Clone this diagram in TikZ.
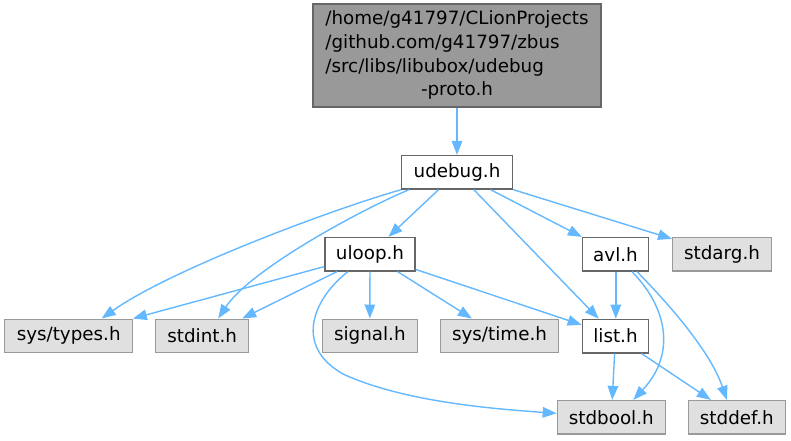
\documentclass[tikz,border=0pt]{standalone}
\usepackage{fontspec}
\setmainfont{DejaVu Sans}
\usetikzlibrary{arrows.meta}
\definecolor{edgeblue}{HTML}{63B8FF}
\definecolor{grayfill}{HTML}{E0E0E0}
\definecolor{grayline}{HTML}{999999}
\definecolor{darkline}{HTML}{666666}
\definecolor{topfill}{HTML}{999999}
\begin{document}
\begin{tikzpicture}[x=1pt,y=-1pt,
  every node/.style={font=\fontsize{18.3}{23.6}\selectfont, inner sep=0pt, line width=1.3pt, minimum height=33.5pt},
  whitebox/.style={draw=darkline, fill=white},
  graybox/.style={draw=grayline, fill=grayfill},
  topbox/.style={draw=darkline, fill=topfill},
  dep/.style={draw=edgeblue, line width=1.4pt, -{Triangle[length=14pt,width=10.5pt]}}]
\useasboundingbox (0,0) rectangle (791,440);
\node[topbox, minimum width=288pt, minimum height=103pt] (top) at (457,55.5)
  {\begin{tabular}{@{}l@{}}/home/g41797/CLionProjects\\/github.com/g41797/zbus\\/src/libs/libubox/udebug\\\multicolumn{1}{@{}c@{}}{-proto.h}\end{tabular}};
\node[whitebox, minimum width=110.6pt] (udebug) at (457,172.3) {udebug.h};
\node[whitebox, minimum width=90pt] (uloop) at (370,254.2) {uloop.h};
\node[whitebox, minimum width=66.4pt] (avl) at (615.5,254.3) {avl.h};
\node[graybox, minimum width=98.6pt] (stdarg) at (722,254.3) {stdarg.h};
\node[graybox, minimum width=128pt] (systypes) at (68.7,335.9) {sys/types.h};
\node[graybox, minimum width=93pt] (stdint) at (202.2,335.9) {stdint.h};
\node[graybox, minimum width=95pt] (signal) at (369.8,335.9) {signal.h};
\node[graybox, minimum width=117.6pt] (systime) at (499.5,335.9) {sys/time.h};
\node[whitebox, minimum width=66.4pt] (list) at (615.5,336.1) {list.h};
\node[graybox, minimum width=108pt] (stdbool) at (611.3,417.3) {stdbool.h};
\node[graybox, minimum width=97pt] (stddef) at (736.8,417.3) {stddef.h};

\draw[dep] (top) -- (udebug);
\draw[dep] (udebug.south west) .. controls (330,210) and (170,270) .. ([xshift=33pt]systypes.north);
\draw[dep] ([xshift=8pt]udebug.south west) .. controls (360,210) and (250,270) .. ([xshift=16pt]stdint.north);
\draw[dep] (udebug) -- (uloop);
\draw[dep] (udebug) -- (list);
\draw[dep] (udebug) -- (avl);
\draw[dep] (udebug) -- (stdarg);
\draw[dep] (uloop) -- (systypes);
\draw[dep] ([xshift=-33pt]uloop.south) -- ([xshift=40pt]stdint.north);
\draw[dep] ([xshift=-22pt]uloop.south) .. controls (315,297) and (292,345) .. (343,374) .. controls (400,400) and (480,408) .. ([yshift=4pt]stdbool.west);
\draw[dep] (uloop) -- (signal);
\draw[dep] (uloop) -- (systime);
\draw[dep] (uloop) -- (list);
\draw[dep] ([xshift=0.3pt]avl.south) -- ([xshift=0.3pt]list.north);
\draw[dep] ([xshift=16.5pt]avl.south) .. controls (665,305) and (678,352) .. ([xshift=22pt]stdbool.north);
\draw[dep] ([xshift=21.5pt]avl.south) .. controls (665,300) and (710,350) .. ([xshift=-10pt]stddef.north);
\draw[dep] (list) -- (stdbool);
\draw[dep] (list) -- (stddef);
\end{tikzpicture}
\end{document}
